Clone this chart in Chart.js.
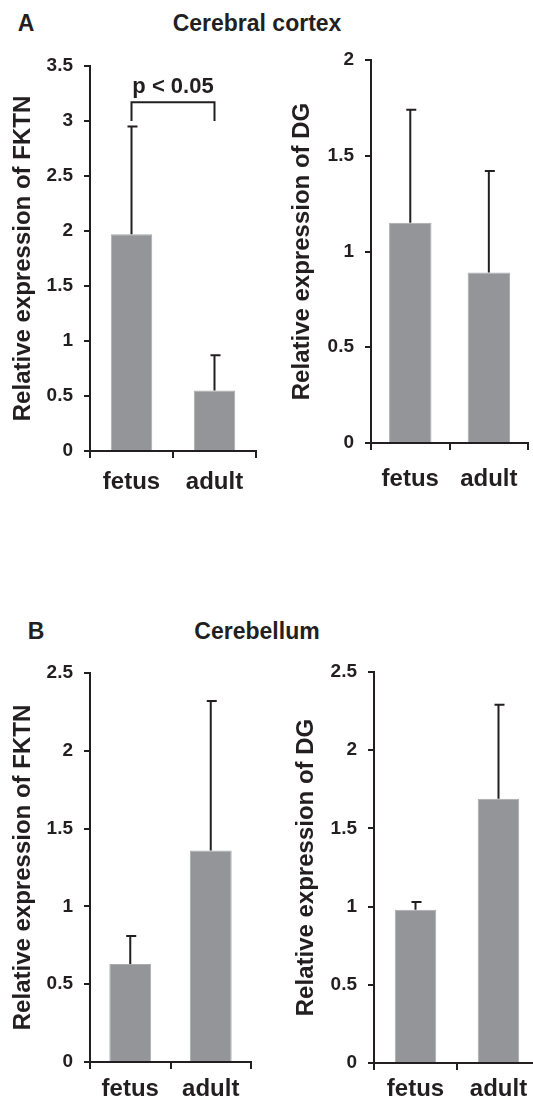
<!DOCTYPE html>
<html>
<head>
<meta charset="utf-8">
<script src="https://cdn.jsdelivr.net/npm/chart.js@4"></script>
<style>
    body { margin: 0; background: #fff; width: 533px; height: 1111px; overflow: hidden; position: relative;
           font-family: "Liberation Sans", Arial, sans-serif; }
    .lbl { position: absolute; font-weight: bold; color: #231f20; font-size: 23px; line-height: 1;
           transform: translate(-50%, -50%); white-space: nowrap; }
    canvas { position: absolute; }
</style>
</head>
<body>
<div class="lbl" style="left:26px;top:23px">A</div>
<div class="lbl" style="left:257px;top:23px">Cerebral cortex</div>
<div class="lbl" style="left:36px;top:631px">B</div>
<div class="lbl" style="left:257px;top:631px">Cerebellum</div>
<canvas id="cortexFktn"></canvas>
<canvas id="cortexDg"></canvas>
<canvas id="cerebFktn"></canvas>
<canvas id="cerebDg"></canvas>
<script>
// Data (bar height = mean, errTop = upper end of error bar)
const categories = ['fetus', 'adult'];

const cortexFktnMean = [1.97, 0.55];
const cortexFktnErrTop = [2.95, 0.87];

const cortexDgMean = [1.15, 0.89];
const cortexDgErrTop = [1.74, 1.42];

const cerebFktnMean = [0.63, 1.36];
const cerebFktnErrTop = [0.81, 2.32];

const cerebDgMean = [0.98, 1.69];
const cerebDgErrTop = [1.03, 2.29];

const yMaxes = [3.5, 2, 2.5, 2.5];
const yStep = 0.5;

const ink = '#231f20';
const barGray = '#939598';
const fontFamily = '"Liberation Sans", Arial, sans-serif';

Chart.defaults.font.family = fontFamily;
Chart.defaults.color = ink;

// Draws the upper error bars and the significance bracket
const errorBars = {
    id: 'errorBars',
    afterDatasetsDraw(chart, args, opts) {
        const ctx = chart.ctx;
        const y = chart.scales.y;
        const bars = chart.getDatasetMeta(0).data;
        ctx.save();
        ctx.strokeStyle = ink;
        ctx.lineWidth = 2;
        bars.forEach((bar, i) => {
            const yt = y.getPixelForValue(opts.tops[i]);
            ctx.beginPath();
            ctx.moveTo(bar.x, bar.y);
            ctx.lineTo(bar.x, yt);
            ctx.moveTo(bar.x - 4, yt);
            ctx.lineTo(bar.x + 6, yt);
            ctx.stroke();
        });
        const b = opts.bracket;
        if (b) {
            const x1 = bars[0].x, x2 = bars[1].x;
            const yLine = y.getPixelForValue(b.level);
            const yDrop = y.getPixelForValue(b.drop);
            ctx.beginPath();
            ctx.moveTo(x1, yDrop);
            ctx.lineTo(x1, yLine);
            ctx.lineTo(x2, yLine);
            ctx.lineTo(x2, yDrop);
            ctx.stroke();
            ctx.fillStyle = ink;
            ctx.font = 'bold 22px ' + fontFamily;
            ctx.textAlign = 'center';
            ctx.textBaseline = 'middle';
            ctx.fillText(b.text, (x1 + x2) / 2, y.getPixelForValue(b.textAt));
        }
        ctx.restore();
    }
};

function makeChart(id, box, values, tops, yMax, yTitle, bracket) {
    const canvas = document.getElementById(id);
    canvas.width = box.width;
    canvas.height = box.height;
    canvas.style.left = box.left + 'px';
    canvas.style.top = box.top + 'px';
    const titleSize = 24;
    return new Chart(canvas, {
        type: 'bar',
        data: {
            labels: categories,
            datasets: [{
                data: values,
                backgroundColor: barGray,
                borderColor: '#a9abae',
                borderWidth: 1,
                barPercentage: box.barPct,
                categoryPercentage: 1
            }]
        },
        plugins: [errorBars],
        options: {
            responsive: false,
            animation: false,
            layout: {
                padding: { top: box.yTop - box.top, right: box.left + box.width - box.xEnd, left: 0, bottom: 0 }
            },
            plugins: {
                legend: { display: false },
                tooltip: { enabled: false },
                errorBars: { tops: tops, bracket: bracket }
            },
            scales: {
                x: {
                    grid: { drawOnChartArea: false, drawTicks: true, tickLength: 7, color: ink, lineWidth: 2, offset: true },
                    border: { color: ink, width: 2 },
                    ticks: { color: ink, font: { size: 24, weight: 'bold' }, padding: box.labelPad },
                    afterFit: s => { s.height = box.top + box.height - box.yBottom; }
                },
                y: {
                    min: 0,
                    max: yMax,
                    ticks: {
                        stepSize: yStep, color: ink, font: { size: 19, weight: 'bold' }, padding: 11,
                        callback: v => String(v)
                    },
                    grid: { drawOnChartArea: false, drawTicks: true, tickLength: 6, color: ink, lineWidth: 2 },
                    border: { color: ink, width: 2 },
                    title: {
                        display: true,
                        text: yTitle,
                        color: ink,
                        font: { size: titleSize, weight: 'bold' },
                        padding: { top: box.titleX - box.left - titleSize * 0.6, bottom: 0 }
                    },
                    afterFit: s => { s.width = box.axisX - box.left; }
                }
            }
        }
    });
}

makeChart('cortexFktn',
    { left: 0, top: 40, width: 262, height: 470, axisX: 90, yTop: 66, yBottom: 451, xEnd: 256, titleX: 23, labelPad: 10, barPct: 0.5 },
    cortexFktnMean, cortexFktnErrTop, yMaxes[0], 'Relative expression of FKTN',
    { level: 3.17, drop: 3.0, textAt: 3.31, text: 'p < 0.05' });

makeChart('cortexDg',
    { left: 280, top: 30, width: 253, height: 480, axisX: 371, yTop: 60, yBottom: 443, xEnd: 531, titleX: 302, labelPad: 15, barPct: 0.54 },
    cortexDgMean, cortexDgErrTop, yMaxes[1], 'Relative expression of DG', null);

makeChart('cerebFktn',
    { left: 0, top: 643, width: 262, height: 468, axisX: 90, yTop: 673, yBottom: 1062, xEnd: 251, titleX: 23, labelPad: 6, barPct: 0.52 },
    cerebFktnMean, cerebFktnErrTop, yMaxes[2], 'Relative expression of FKTN', null);

makeChart('cerebDg',
    { left: 284, top: 642, width: 260, height: 469, axisX: 374, yTop: 672, yBottom: 1063, xEnd: 540, titleX: 306, labelPad: 5, barPct: 0.5 },
    cerebDgMean, cerebDgErrTop, yMaxes[3], 'Relative expression of DG', null);
</script>
</body>
</html>
